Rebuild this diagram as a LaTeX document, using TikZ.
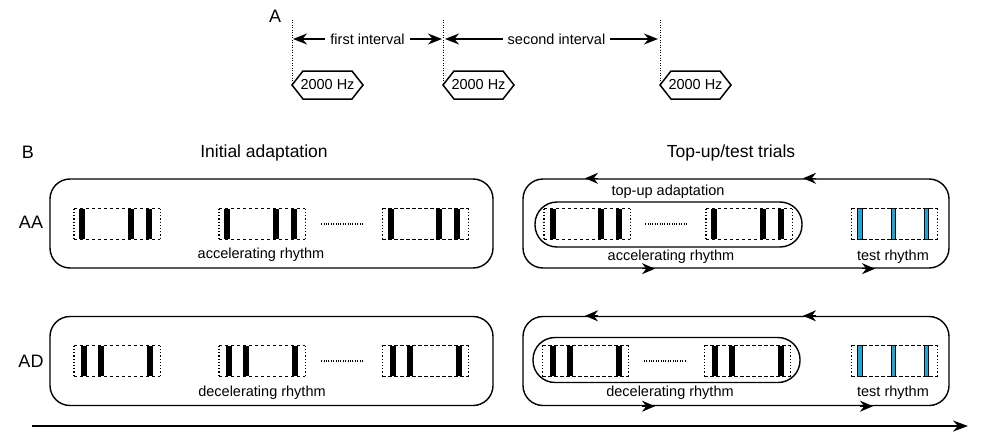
\documentclass[tikz,border=0pt]{standalone}
\usepackage{fontspec}
\setmainfont{Liberation Sans}
\usetikzlibrary{arrows.meta}
\definecolor{testblue}{RGB}{28,168,212}
\newcommand\hexat[2]{%
  \node[lbl] (#1) at (#2,85) {2000 Hz};
  \draw[hexline] ([xshift=-35.5pt]#1.center) -- ++(11,-14) -- ++(49,0) -- ++(11,14) -- ++(-11,14) -- ++(-49,0) -- cycle;
}
\newcommand\pat[4]{%
  \node[patbox] (#1) at (#2,#3) {};
  \foreach \o in {#4} {\fill ([xshift=\o pt-3pt]#1.north west) rectangle ([xshift=\o pt+3pt]#1.south west);}
  \draw[dashedge] (#1.north west) -- (#1.north east) (#1.south west) -- (#1.south east);
  \draw[dotedge] (#1.north west) -- (#1.south west) (#1.north east) -- (#1.south east);
}
\newcommand\testpat[3]{%
  \node[patbox] (#1) at (#2,#3) {};
  \draw[dashedge] (#1.north west) -- (#1.north east) (#1.south west) -- (#1.south east);
  \draw[dotedge] (#1.north west) -- (#1.south west) (#1.north east) -- (#1.south east);
  \foreach \o in {8.5,42,75} {\filldraw[fill=testblue,draw=black,line width=0.8pt] ([xshift=\o pt-2.3pt]#1.north west) rectangle ([xshift=\o pt+2.3pt]#1.south west);}
}
\begin{document}
\begin{tikzpicture}[x=1pt,y=-1pt,
  lbl/.style={font=\fontsize{14.5}{16}\selectfont, inner sep=0pt},
  ttl/.style={font=\fontsize{17.5}{20}\selectfont, inner sep=0pt},
  panel/.style={font=\fontsize{18}{20}\selectfont, inner sep=0pt},
  hexline/.style={line width=1.5pt, line join=miter},
  patbox/.style={minimum width=86pt, minimum height=30pt, inner sep=0pt},
  dashedge/.style={line width=1pt, dash pattern=on 3.5pt off 2.5pt},
  dotedge/.style={line width=1.4pt, dash pattern=on 1.2pt off 2pt},
  dotsline/.style={line width=1.2pt, dash pattern=on 1pt off 1.4pt},
  vdot/.style={line width=1pt, dash pattern=on 1pt off 1.5pt},
  bigbox/.style={draw, line width=1.4pt, rounded corners=20pt, minimum width=#1, minimum height=89pt, inner sep=0pt},
  innerbox/.style={draw, line width=1.4pt, rounded corners=22pt, minimum width=267pt, minimum height=45pt, inner sep=0pt},
  tipa/.style={-{Stealth[length=13pt,width=11pt]}, line width=1.4pt},
  dbl/.style={{Stealth[length=14pt,width=11pt]}-{Stealth[length=14pt,width=11pt]}, line width=1.4pt},
]
\useasboundingbox (0,0) rectangle (995,444);

% ---------- Panel A ----------
\node[panel] (labA) at (275,16) {A};
\coordinate (d1t) at (292,20); \coordinate (d1b) at (292,85);
\coordinate (d2t) at (443,20); \coordinate (d2b) at (443,85);
\coordinate (d3t) at (660,20); \coordinate (d3b) at (660,85);
\draw[vdot] (d1t) -- (d1b);
\draw[vdot] (d2t) -- (d2b);
\draw[vdot] (d3t) -- (d3b);
\coordinate (a1) at (293,39); \coordinate (a2) at (442,39);
\coordinate (a3) at (445,39); \coordinate (a4) at (658,39);
\draw[dbl] (a1) -- (a2) node[midway, lbl, fill=white, inner xsep=5pt, inner ysep=1pt] (fi) {first interval};
\draw[dbl] (a3) -- (a4) node[midway, lbl, fill=white, inner xsep=5pt, inner ysep=1pt, xshift=5pt] (si) {second interval};
\hexat{h1}{327.5}
\hexat{h2}{478.5}
\hexat{h3}{695.5}

% ---------- Panel B ----------
\node[panel] (labB) at (28,152) {B};
\node[ttl] (t1) at (264,153) {Initial adaptation};
\node[ttl] (t2) at (731,153) {Top-up/test trials};

% AA row
\node[panel] (AA) at (31,222) {AA};
\node[bigbox=443pt] (L1) at (271.5,223.5) {};
\pat{p11}{117}{224}{8.5,57,75}
\pat{p12}{262}{224}{8.5,57,75}
\pat{p13}{425.5}{224}{8.5,57,75}
\draw[dotsline] ([xshift=16pt]p12.east) -- ([xshift=-20pt]p13.west);
\node[lbl] (acc1) at (261,255) {accelerating rhythm};

\node[bigbox=426pt] (R1) at (736,223.5) {};
\node[innerbox] (I1) at (668.5,224.5) {};
\draw[tipa] ([xshift=-138pt]R1.north) -- ([xshift=-151pt]R1.north);
\draw[tipa] ([xshift=80pt]R1.north) -- ([xshift=67pt]R1.north);
\draw[tipa] ([xshift=-94pt]R1.south) -- ([xshift=-81pt]R1.south);
\draw[tipa] ([xshift=126pt]R1.south) -- ([xshift=139pt]R1.south);
\node[lbl] (tua) at (668,192) {top-up adaptation};
\pat{p14}{587}{224}{9.5,57,75}
\pat{p15}{749}{224}{8.5,57,75}
\draw[dotsline] ([xshift=15pt]p14.east) -- ([xshift=-19pt]p15.west);
\testpat{tp1}{894.5}{224}
\node[lbl] (acc2) at (671,257) {accelerating rhythm};
\node[lbl] (tr1) at (893,257) {test rhythm};

% AD row
\node[panel] (AD) at (31,361) {AD};
\node[bigbox=443pt] (L2) at (271.5,361) {};
\pat{p21}{117}{361}{10.5,27.5,76.5}
\pat{p22}{262}{361}{10.5,27.5,76.5}
\pat{p23}{425.5}{361}{10.5,27.5,76.5}
\draw[dotsline] ([xshift=16pt]p22.east) -- ([xshift=-20pt]p23.west);
\node[lbl] (dec1) at (262,393) {decelerating rhythm};

\node[bigbox=426pt] (R2) at (736,361) {};
\node[innerbox] (I2) at (666.5,360) {};
\draw[tipa] ([xshift=-138pt]R2.north) -- ([xshift=-151pt]R2.north);
\draw[tipa] ([xshift=80pt]R2.north) -- ([xshift=67pt]R2.north);
\draw[tipa] ([xshift=-94pt]R2.south) -- ([xshift=-81pt]R2.south);
\draw[tipa] ([xshift=124pt]R2.south) -- ([xshift=137pt]R2.south);
\pat{p24}{585.5}{361}{10.5,27.5,76.5}
\pat{p25}{747.5}{361}{10.5,27.5,76.5}
\draw[dotsline] ([xshift=15pt]p24.east) -- ([xshift=-19pt]p25.west);
\testpat{tp2}{894.5}{361}
\node[lbl] (dec2) at (670,393) {decelerating rhythm};
\node[lbl] (tr2) at (893,393) {test rhythm};

% timeline
\coordinate (tl0) at (32,426);
\coordinate (tl1) at (968,426);
\draw[-{Stealth[length=15pt,width=11pt]}, line width=1.4pt] (tl0) -- (tl1);
\end{tikzpicture}
\end{document}
